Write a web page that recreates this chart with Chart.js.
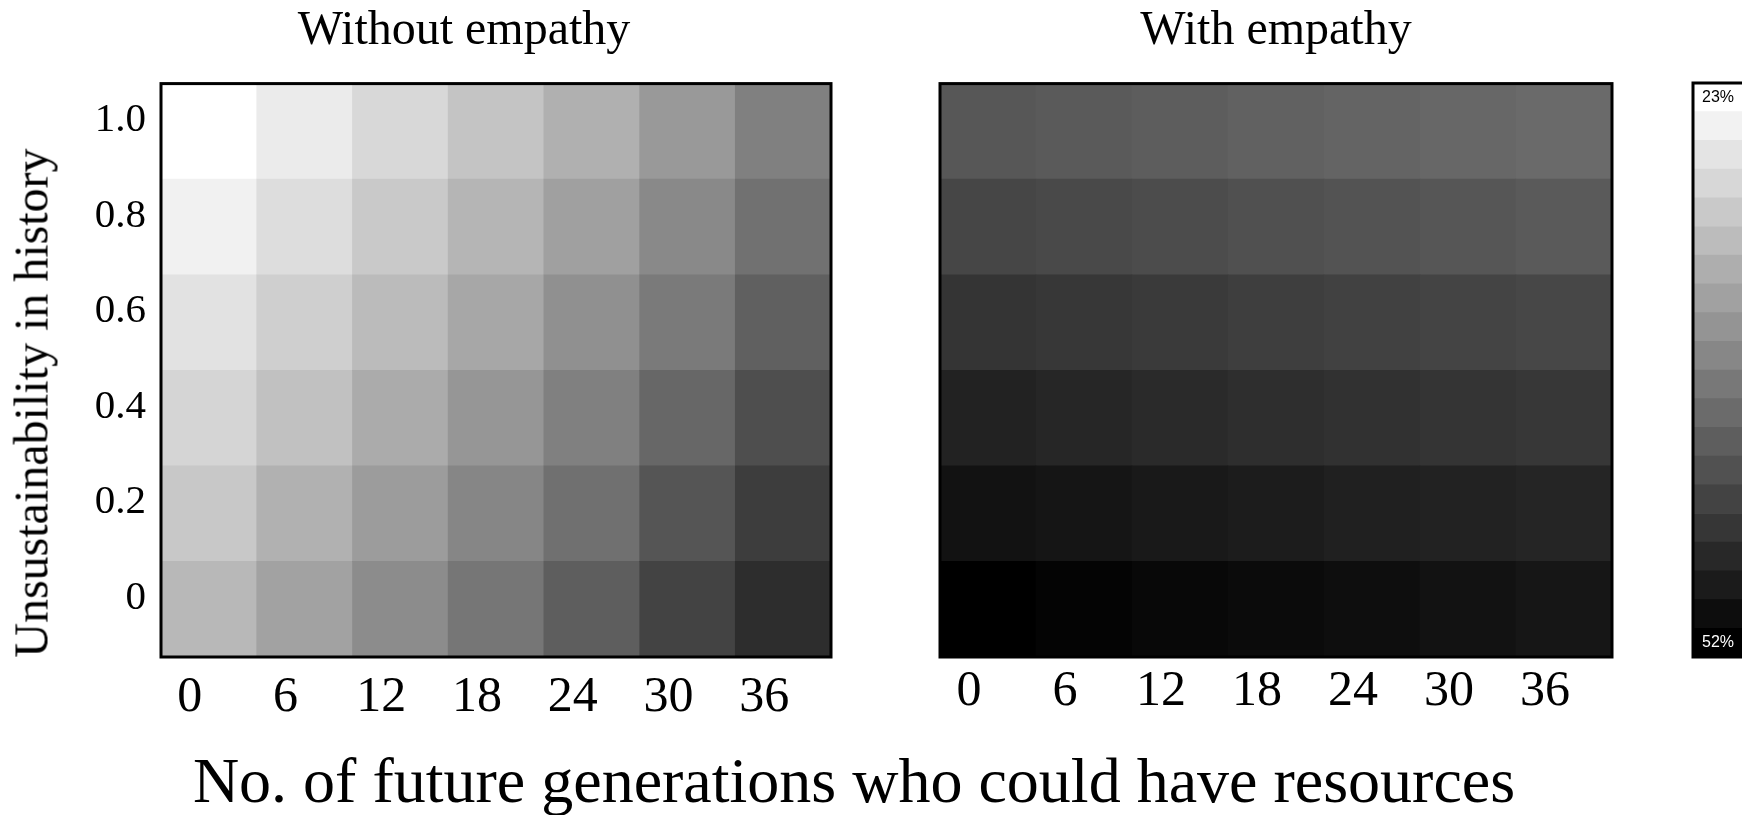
<!DOCTYPE html>
<html>
<head>
<meta charset="utf-8">
<title>Empathy heatmaps</title>
<script src="https://cdn.jsdelivr.net/npm/chart.js@4.4.1/dist/chart.umd.min.js"></script>
<style>
  html, body { margin: 0; padding: 0; background: #fff; overflow: hidden; }
  body { width: 1742px; height: 815px; position: relative; }
  canvas { position: absolute; top: 0; }
  #leftChart { left: 0; }
  #rightChart { left: 900px; }
  #barChart { left: 1680px; }
  .axis-title {
    position: absolute;
    font-family: "Liberation Serif", "Times New Roman", serif;
    color: #000;
    white-space: nowrap;
  }
  #yTitle { left: 31px; top: 403px; font-size: 48px; transform: translate(-50%, -50%) rotate(-90deg); }
  #xTitle { left: 854px; top: 781px; font-size: 64px; transform: translate(-50%, -50%); }
</style>
</head>
<body>
<canvas id="leftChart" width="928" height="740"></canvas>
<canvas id="rightChart" width="752" height="740"></canvas>
<canvas id="barChart" width="70" height="740"></canvas>
<div id="yTitle" class="axis-title">Unsustainability in history</div>
<div id="xTitle" class="axis-title">No. of future generations who could have resources</div>

<script>
// generations on x, history levels on y (bottom to top)
const generations = ["0", "6", "12", "18", "24", "30", "36"];
const historyLevels = [0, 0.2, 0.4, 0.6, 0.8, 1.0];

// % values, one row per history level (0 ... 1.0)
const withoutEmpathy = [
  [31.1, 33.6, 36.1, 38.6, 41.3, 44.4, 46.9],
  [29.3, 31.9, 34.3, 36.8, 39.3, 42.3, 45.1],
  [27.8, 30.1, 32.6, 34.9, 37.4, 40.3, 43.1],
  [26.3, 28.5, 30.7, 33.0, 35.6, 38.1, 41.1],
  [24.6, 26.9, 29.1, 31.4, 33.8, 36.4, 39.1],
  [23.0, 25.3, 27.4, 29.7, 32.0, 34.6, 37.4]
];
const withEmpathy = [
  [52.0, 51.5, 51.1, 50.7, 50.4, 50.0, 49.5],
  [50.0, 49.6, 49.2, 48.8, 48.4, 48.1, 47.8],
  [48.1, 47.7, 47.2, 46.8, 46.4, 46.1, 45.7],
  [46.1, 45.7, 45.4, 44.9, 44.6, 44.3, 43.9],
  [44.0, 43.7, 43.4, 42.9, 42.6, 42.2, 41.8],
  [42.1, 41.8, 41.4, 41.0, 40.6, 40.3, 39.9]
];

// colour bar
const scaleMin = 23;
const scaleMax = 52;
const barLevels = [23, 24.5, 26.1, 27.6, 29.1, 30.6, 32.2, 33.7, 35.2, 36.7,
                   38.3, 39.8, 41.3, 42.8, 44.4, 45.9, 47.4, 48.9, 50.5, 52];

const serif = '"Liberation Serif", "Times New Roman", serif';

function grayFor(v) {
  let g = Math.round(255 * (scaleMax - v) / (scaleMax - scaleMin));
  g = Math.max(0, Math.min(255, g));
  return `rgb(${g},${g},${g})`;
}

// black frame around the plot area
const framePlugin = {
  id: "frame",
  afterDatasetsDraw(chart) {
    const a = chart.chartArea;
    const ctx = chart.ctx;
    ctx.save();
    ctx.strokeStyle = "#000";
    ctx.lineWidth = 3;
    ctx.strokeRect(a.left, a.top, a.right - a.left, a.bottom - a.top);
    ctx.restore();
  }
};

function heatmapDatasets(rows) {
  const half = 0.1;
  return rows.map((row, i) => ({
    label: "History " + historyLevels[i],
    data: row.map(() => [historyLevels[i] - half, historyLevels[i] + half]),
    backgroundColor: row.map(v => grayFor(v)),
    values: row,
    borderWidth: 0,
    grouped: false,
    barPercentage: 1,
    categoryPercentage: 1
  }));
}

function heatmapOptions(title, leftWidth, rightWidth, xPad) {
  return {
    responsive: false,
    animation: false,
    plugins: {
      legend: { display: false },
      title: {
        display: true,
        text: title,
        color: "#000",
        font: { family: serif, size: 48, weight: "normal" },
        padding: { top: 3, bottom: 23 }
      },
      tooltip: {
        callbacks: {
          label: ctx => ctx.dataset.values[ctx.dataIndex].toFixed(1) + "%"
        }
      }
    },
    scales: {
      x: {
        type: "category",
        offset: true,
        grid: { display: false, drawTicks: false },
        border: { display: false },
        ticks: {
          color: "#000",
          font: { family: serif, size: 50 },
          padding: xPad,
          labelOffset: -19,
          maxRotation: 0
        },
        afterFit: s => { s.height = 83; }
      },
      y: {
        type: "linear",
        position: "left",
        min: -0.1,
        max: 1.1,
        grid: { display: false, drawTicks: false },
        border: { display: false },
        afterBuildTicks: s => { s.ticks = historyLevels.map(v => ({ value: v })); },
        ticks: {
          display: leftWidth > 100,
          color: "#000",
          font: { family: serif, size: 41 },
          padding: 15,
          labelOffset: -11,
          callback: v => (v === 0 ? "0" : Number(v).toFixed(1))
        },
        afterFit: s => { s.width = leftWidth; }
      },
      // empty spacer on the right so the title sits where it does in the figure
      spacer: {
        type: "linear",
        position: "right",
        grid: { display: false, drawTicks: false },
        border: { display: false },
        ticks: { display: false },
        afterFit: s => { s.width = rightWidth; }
      }
    }
  };
}

new Chart(document.getElementById("leftChart"), {
  type: "bar",
  data: { labels: generations, datasets: heatmapDatasets(withoutEmpathy) },
  options: heatmapOptions("Without empathy", 161, 97, 11),
  plugins: [framePlugin]
});

new Chart(document.getElementById("rightChart"), {
  type: "bar",
  data: { labels: generations, datasets: heatmapDatasets(withEmpathy) },
  options: heatmapOptions("With empathy", 40, 40, 5),
  plugins: [framePlugin]
});

// colour bar: one horizontal band per level, top = 23%, bottom = 52%
const lastBand = barLevels.length - 1;
new Chart(document.getElementById("barChart"), {
  type: "bar",
  data: {
    labels: barLevels.map(v => v + "%"),
    datasets: [{
      data: barLevels.map(() => 1),
      backgroundColor: barLevels.map(v => grayFor(v)),
      borderWidth: 0,
      barPercentage: 1,
      categoryPercentage: 1
    }]
  },
  options: {
    indexAxis: "y",
    responsive: false,
    animation: false,
    layout: { padding: { left: 13, right: 0, top: 83, bottom: 83 } },
    plugins: { legend: { display: false }, tooltip: { enabled: false } },
    scales: {
      x: { display: false, min: 0, max: 1 },
      y: {
        grid: { display: false, drawTicks: false },
        border: { display: false },
        ticks: {
          z: 2,
          mirror: true,
          padding: 9,
          autoSkip: false,
          font: { family: '"Liberation Sans", Arial, sans-serif', size: 16 },
          color: ctx => (ctx.index === lastBand ? "#fff" : "#000"),
          callback: (v, i) => (i === 0 || i === lastBand ? Math.round(barLevels[i]) + "%" : "")
        },
        afterFit: s => { s.width = 0; }
      }
    }
  },
  plugins: [framePlugin]
});
</script>
</body>
</html>
